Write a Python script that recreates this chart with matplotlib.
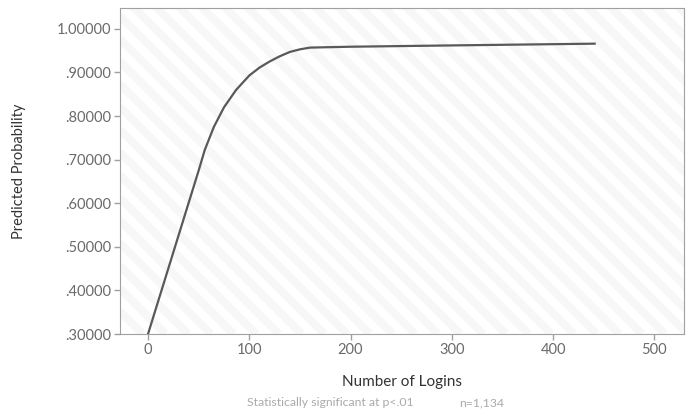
import numpy as np
import matplotlib.pyplot as plt
from matplotlib.ticker import FuncFormatter

# valores
logins = [0, 10, 20, 30, 40, 50, 56, 65, 75, 87, 100, 110, 120, 130, 140, 150, 160, 200, 300, 441]
prob = [0.300, 0.375, 0.450, 0.525, 0.600, 0.675, 0.722, 0.775, 0.820, 0.860,
        0.893, 0.911, 0.925, 0.937, 0.947, 0.953, 0.957, 0.959, 0.962, 0.966]
x_ticks = [0, 100, 200, 300, 400, 500]
y_ticks = [0.3, 0.4, 0.5, 0.6, 0.7, 0.8, 0.9, 1.0]

plt.rcParams["font.family"] = ["Lato", "DejaVu Sans"]

fig = plt.figure(figsize=(6.9, 4.17), dpi=100)
ax = fig.add_axes([0.174, 0.199, 0.817, 0.782])

# listras diagonais de fundo (em pixels do eixo)
W, H = 0.817 * 690, 0.782 * 417
periodo = 22.7
for c in np.arange(0, W + H + periodo, periodo):
    ax.plot([0, c / W], [c / H, 0], transform=ax.transAxes, color="#f7f7f7",
            linewidth=5.8, solid_capstyle="butt", zorder=0)

ax.plot(logins, prob, color="#595959", linewidth=1.6, zorder=3)

ax.set_xlim(-27.6, 529)
ax.set_ylim(0.3, 1.048)
ax.set_xticks(x_ticks)
ax.set_yticks(y_ticks)


def fmt(v, pos):
    s = f"{v:.5f}"
    return s[1:] if s.startswith("0") else s


ax.yaxis.set_major_formatter(FuncFormatter(fmt))
for sp in ax.spines.values():
    sp.set_color("#a0a0a0")
ax.tick_params(colors="#a0a0a0", labelcolor="#6a6a6a", labelsize=10.5, length=4, width=1, pad=2.5)
ax.set_xlabel("Number of Logins", fontsize=11, color="#333333", labelpad=13)
ax.set_ylabel("Predicted Probability", fontsize=10.5, color="#333333", labelpad=22)

fig.text(0.478, 0.026, "Statistically significant at p<.01", fontsize=8.8, color="#aaaaaa", ha="center")
fig.text(0.665, 0.026, "n=1,134", fontsize=8.8, color="#aaaaaa", ha="left")

fig.savefig("out.png", dpi=100)
